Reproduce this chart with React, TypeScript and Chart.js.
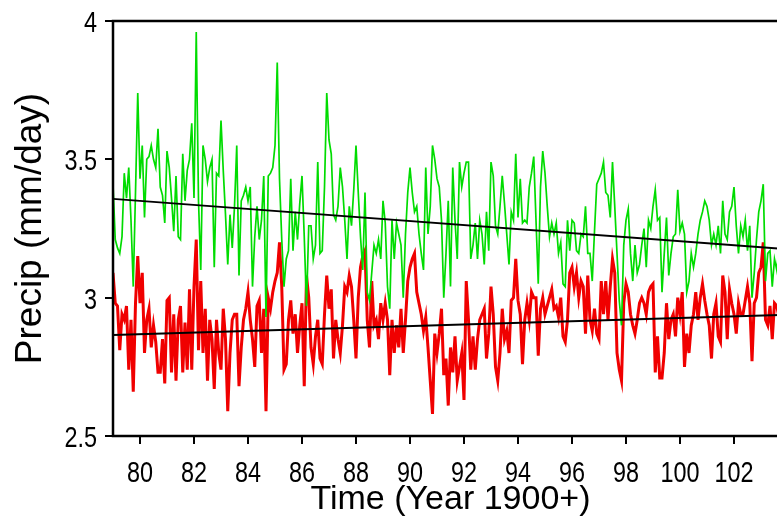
import React, { useEffect, useRef } from "react";
import { Chart, registerables } from "chart.js";

Chart.register(...registerables);

// Monthly series start in January 1979 (axis counts years after 1900)
const startYear = 79;

// Monthly precipitation, mm/day — red series (one row per year, 1979–2003)
const redSeries: number[] = [
  3.09, 2.98, 2.97, 2.81, 2.94, 2.92, 2.97, 2.74, 2.92, 2.66, 2.98, 3.15,
  2.98, 3.09, 2.80, 2.92, 2.96, 2.82, 2.90, 2.84, 2.73, 2.73, 2.85, 2.69,
  2.99, 3.00, 2.73, 2.94, 2.70, 2.92, 2.97, 2.73, 2.91, 2.74, 3.03, 2.74,
  3.04, 3.21, 2.81, 3.06, 2.80, 2.96, 2.70, 2.92, 2.85, 2.67, 2.92, 2.80,
  2.74, 2.96, 2.85, 2.59, 2.80, 2.92, 2.94, 2.94, 2.68, 2.82, 2.92, 2.96,
  3.02, 2.92, 2.85, 2.75, 2.97, 2.99, 2.80, 2.96, 2.59, 3.00, 2.96, 3.02,
  3.06, 3.09, 3.20, 3.04, 2.74, 2.76, 2.92, 2.99, 2.87, 2.94, 2.80, 2.90,
  2.98, 2.68, 3.08, 3.00, 2.82, 2.76, 2.86, 2.92, 2.78, 2.76, 2.94, 3.08,
  2.96, 3.03, 2.78, 2.92, 2.85, 2.80, 2.90, 3.04, 3.02, 3.08, 3.04, 2.92,
  2.78, 3.00, 3.11, 3.15, 3.17, 2.92, 2.82, 3.06, 2.90, 2.92, 2.85, 2.98,
  2.92, 2.98, 2.92, 2.72, 2.92, 2.80, 2.90, 2.82, 2.96, 2.80, 2.92, 3.06,
  3.11, 3.14, 3.16, 3.02, 2.98, 2.94, 2.88, 2.93, 2.82, 2.70, 2.58, 2.87,
  2.80, 2.87, 2.96, 2.72, 2.78, 2.61, 2.82, 2.73, 2.86, 2.70, 2.75, 2.80,
  2.63, 3.06, 2.92, 2.74, 2.86, 2.74, 2.85, 2.92, 2.94, 2.96, 2.78, 2.87,
  3.04, 2.94, 2.75, 2.70, 2.80, 2.96, 2.85, 2.88, 2.80, 2.99, 3.00, 3.14,
  2.99, 2.94, 2.76, 2.92, 2.98, 2.92, 3.02, 3.00, 3.00, 2.79, 2.96, 3.00,
  2.94, 2.97, 3.00, 3.03, 2.96, 2.97, 2.93, 3.00, 2.86, 2.84, 2.92, 3.09,
  3.11, 3.04, 3.09, 3.00, 3.06, 3.04, 2.87, 3.08, 2.92, 2.88, 2.96, 2.87,
  2.85, 3.06, 2.94, 3.06, 2.92, 3.04, 3.14, 3.09, 2.80, 2.74, 2.70, 2.98,
  3.05, 3.02, 2.94, 2.90, 2.87, 2.92, 2.98, 3.00, 2.98, 2.94, 3.02, 3.04,
  3.05, 2.73, 2.86, 2.71, 2.71, 2.80, 2.98, 2.85, 2.92, 2.94, 2.86, 3.00,
  2.94, 3.02, 2.75, 2.87, 2.80, 2.90, 2.94, 3.02, 2.92, 3.00, 3.05, 2.99,
  2.94, 2.90, 2.78, 2.94, 2.98, 2.86, 2.84, 3.08, 3.02, 2.85, 3.03, 2.98,
  2.94, 2.87, 2.98, 2.94, 2.94, 2.99, 3.04, 2.98, 2.77, 2.98, 3.00, 3.09,
  3.11, 3.20, 2.92, 2.90, 2.97, 2.85, 2.98, 2.97, 2.93, 2.90, 2.96, 2.92,
];

// Monthly precipitation, mm/day — green series (one row per year, 1979–2003)
const greenSeries: number[] = [
  3.41, 3.21, 3.18, 3.16, 3.22, 3.45, 3.36, 3.47, 3.28, 3.04, 3.38, 3.74,
  3.43, 3.55, 3.29, 3.50, 3.51, 3.55, 3.50, 3.47, 3.61, 3.40, 3.37, 3.27,
  3.53, 3.47, 3.36, 3.24, 3.44, 3.22, 3.21, 3.52, 3.35, 3.46, 3.50, 3.63,
  3.36, 3.96, 3.35, 3.10, 3.55, 3.50, 3.42, 3.47, 3.50, 3.11, 3.45, 3.44,
  3.64, 3.46, 3.30, 3.12, 3.30, 3.18, 3.33, 3.55, 3.08, 3.35, 3.37, 3.40,
  3.35, 3.40, 3.04, 3.22, 3.33, 3.21, 3.28, 3.44, 2.93, 3.44, 3.45, 3.47,
  3.55, 3.85, 3.43, 3.21, 3.04, 3.14, 3.17, 3.43, 3.17, 3.31, 3.21, 3.34,
  3.44, 3.22, 2.97, 3.26, 3.26, 3.14, 3.19, 3.49, 3.16, 3.17, 3.40, 3.74,
  3.57, 3.52, 3.30, 3.28, 3.33, 3.47, 3.40, 3.28, 3.14, 3.33, 3.26, 3.39,
  3.55, 3.38, 3.22, 3.10, 3.38, 3.02, 2.99, 3.09, 3.19, 3.16, 3.21, 3.14,
  3.35, 3.27, 3.04, 2.96, 3.28, 3.14, 3.27, 3.23, 3.19, 3.00, 3.23, 3.38,
  3.47, 3.38, 3.31, 3.33, 3.23, 3.16, 3.10, 3.47, 3.23, 3.33, 3.55, 3.50,
  3.43, 3.40, 3.28, 3.00, 3.16, 3.35, 3.04, 3.47, 3.28, 3.14, 3.49, 3.40,
  3.45, 3.49, 3.49, 3.14, 3.19, 3.27, 3.14, 3.28, 3.23, 3.12, 3.31, 3.17,
  3.49, 3.44, 3.26, 3.23, 3.33, 3.44, 3.34, 3.23, 3.12, 3.31, 3.28, 3.52,
  3.29, 3.43, 3.27, 3.28, 3.27, 3.40, 3.45, 3.51, 3.28, 3.05, 3.40, 3.53,
  3.45, 3.33, 3.22, 3.27, 3.23, 3.27, 3.16, 3.20, 3.05, 3.04, 3.28, 3.17,
  3.28, 3.27, 3.17, 3.16, 3.23, 3.22, 3.33, 3.16, 3.16, 3.06, 3.24, 3.41,
  3.43, 3.45, 3.49, 3.38, 3.37, 3.29, 3.49, 3.33, 3.16, 2.99, 2.90, 3.19,
  3.28, 3.32, 3.16, 3.06, 3.19, 3.09, 3.12, 3.19, 3.25, 3.11, 3.28, 3.25,
  3.33, 3.39, 3.28, 3.29, 3.02, 3.16, 3.29, 3.08, 3.16, 3.22, 3.23, 3.39,
  3.24, 3.27, 3.23, 3.02, 3.06, 3.16, 3.11, 3.16, 3.23, 3.28, 3.31, 3.35,
  3.33, 3.28, 3.19, 3.23, 3.19, 3.26, 3.16, 3.35, 3.23, 3.21, 3.31, 3.33,
  3.40, 3.26, 3.16, 3.26, 3.22, 3.28, 3.17, 3.26, 3.00, 3.09, 3.21, 3.31,
  3.35, 3.41, 3.06, 3.16, 3.17, 3.04, 3.14, 3.10, 3.18, 3.22, 3.15, 3.20,
];

// Linear trend lines: values at the two ends of the time axis
const trendYears = [79, 104];
const greenTrend = [3.357, 3.175];
const redTrend = [2.865, 2.938];

// Axis ticks
const xTickYears = [80, 82, 84, 86, 88, 90, 92, 94, 96, 98, 100, 102];
const yTickValues = [2.5, 3, 3.5, 4];

const toMonthly = (vals: number[]) =>
  vals.map((v, i) => ({ x: startYear + i / 12, y: v }));
const toTrend = (vals: number[]) =>
  vals.map((v, i) => ({ x: trendYears[i], y: v }));

const titleFamily = "'Liberation Sans', sans-serif";
const labelFont = "30px 'Liberation Sans', sans-serif";
const labelSqueeze = 0.78; // narrow, tall tick numerals

// Black frame around the plotting area
const framePlugin = {
  id: "plotFrame",
  afterDatasetsDraw(chart: any) {
    const { ctx, chartArea: a } = chart;
    ctx.save();
    ctx.strokeStyle = "#000";
    ctx.lineWidth = 2.5;
    ctx.strokeRect(a.left, a.top, a.right - a.left, a.bottom - a.top);
    ctx.restore();
  },
};

// Tick numerals in a condensed style, placed through the chart's own scales
const tickLabelPlugin = {
  id: "condensedTickLabels",
  afterDraw(chart: any) {
    const { ctx, scales } = chart;
    const xs = scales.x;
    const ys = scales.y;
    ctx.save();
    ctx.fillStyle = "#000";
    ctx.font = labelFont;
    ctx.textBaseline = "alphabetic";

    ctx.textAlign = "center";
    const xBase = xs.top + 46;
    for (const v of xTickYears) {
      ctx.save();
      ctx.translate(xs.getPixelForValue(v), xBase);
      ctx.scale(labelSqueeze, 1);
      ctx.fillText(String(v), 0, 0);
      ctx.restore();
    }

    ctx.textAlign = "right";
    const yRight = ys.right - 16;
    for (const v of yTickValues) {
      ctx.save();
      ctx.translate(yRight, ys.getPixelForValue(v) + 11);
      ctx.scale(labelSqueeze, 1);
      ctx.fillText(String(v), 0, 0);
      ctx.restore();
    }
    ctx.restore();
  },
};

const tickGrid = {
  drawOnChartArea: false,
  drawTicks: true,
  tickLength: 8,
  lineWidth: 2,
  color: "#000",
};

export default function App() {
  const canvasRef = useRef<HTMLCanvasElement | null>(null);

  useEffect(() => {
    if (!canvasRef.current) return;
    const chart = new Chart(canvasRef.current, {
      type: "line",
      data: {
        datasets: [
          {
            data: toTrend(greenTrend),
            borderColor: "#000",
            borderWidth: 1.8,
            pointRadius: 0,
            order: 0,
          },
          {
            data: toTrend(redTrend),
            borderColor: "#000",
            borderWidth: 2,
            pointRadius: 0,
            order: 0,
          },
          {
            data: toMonthly(greenSeries),
            borderColor: "rgb(0, 220, 0)",
            borderWidth: 1.7,
            pointRadius: 0,
            order: 1,
          },
          {
            data: toMonthly(redSeries),
            borderColor: "rgb(240, 0, 0)",
            borderWidth: 3,
            pointRadius: 0,
            order: 2,
          },
        ],
      },
      options: {
        responsive: false,
        animation: false,
        devicePixelRatio: 1,
        layout: { padding: { top: 21, right: 12, left: 0, bottom: 0 } },
        plugins: {
          legend: { display: false },
          tooltip: { enabled: false },
        },
        elements: { line: { tension: 0 } },
        scales: {
          x: {
            type: "linear",
            min: 79,
            max: 104,
            afterBuildTicks: (s: any) => {
              s.ticks = xTickYears.map((v) => ({ value: v }));
            },
            afterFit: (s: any) => {
              s.height = 81;
            },
            ticks: { display: false },
            grid: tickGrid,
            border: { display: false },
            title: {
              display: true,
              text: "Time (Year 1900+)",
              font: { family: titleFamily, size: 34, lineHeight: 1 },
              color: "#000",
              padding: { top: 0, bottom: 0 },
            },
          },
          y: {
            type: "linear",
            min: 2.5,
            max: 4,
            afterBuildTicks: (s: any) => {
              s.ticks = yTickValues.map((v) => ({ value: v }));
            },
            afterFit: (s: any) => {
              s.width = 113;
            },
            ticks: { display: false },
            grid: tickGrid,
            border: { display: false },
            title: {
              display: true,
              text: "Precip (mm/day)",
              font: { family: titleFamily, size: 37, lineHeight: 1 },
              color: "#000",
              padding: { top: 12, bottom: 0 },
            },
          },
        },
      },
      plugins: [framePlugin, tickLabelPlugin],
    });
    return () => chart.destroy();
  }, []);

  return (
    <div
      style={{
        position: "absolute",
        left: 0,
        top: 0,
        width: 777,
        height: 517,
        overflow: "hidden",
        background: "#fff",
      }}
    >
      <canvas ref={canvasRef} width={800} height={517} style={{ display: "block" }} />
    </div>
  );
}
